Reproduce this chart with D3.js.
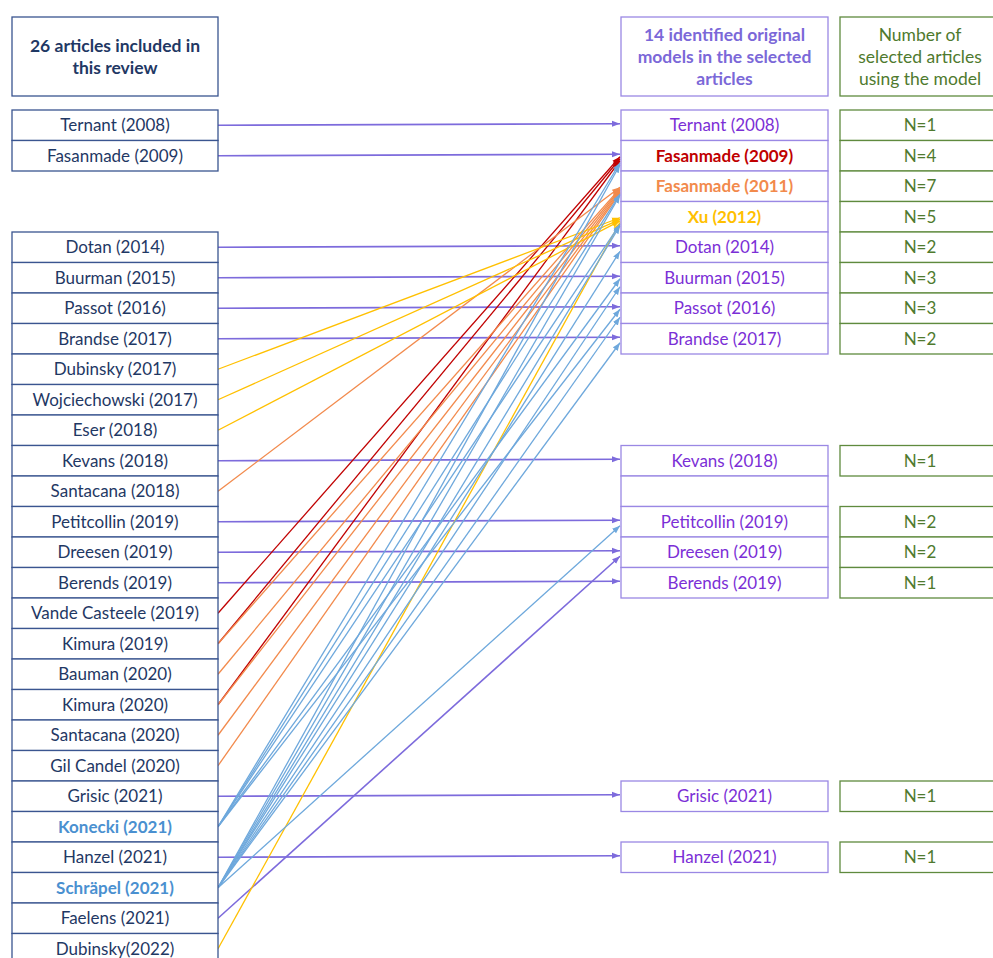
<!DOCTYPE html>
<html>
<head>
<meta charset="utf-8">
<script src="https://cdn.jsdelivr.net/npm/d3@7"></script>
<style>
  body { margin: 0; background: #fff; }
  text { font-family: Lato, "Noto Sans", sans-serif; }
</style>
</head>
<body>
<svg id="chart" width="993" height="958"></svg>
<script>
// left column: one slot per grid row, null = no box
const articles = [
  'Ternant (2008)', 'Fasanmade (2009)', null, null,
  'Dotan (2014)', 'Buurman (2015)', 'Passot (2016)', 'Brandse (2017)',
  'Dubinsky (2017)', 'Wojciechowski (2017)', 'Eser (2018)', 'Kevans (2018)',
  'Santacana (2018)', 'Petitcollin (2019)', 'Dreesen (2019)', 'Berends (2019)',
  'Vande Casteele (2019)', 'Kimura (2019)', 'Bauman (2020)', 'Kimura (2020)',
  'Santacana (2020)', 'Gil Candel (2020)', 'Grisic (2021)', 'Konecki (2021)',
  'Hanzel (2021)', 'Schräpel (2021)', 'Faelens (2021)', 'Dubinsky(2022)'
];
const highlighted = ['Konecki (2021)', 'Schräpel (2021)'];

// right column: original models ('' = empty box)
const models = [
  'Ternant (2008)', 'Fasanmade (2009)', 'Fasanmade (2011)', 'Xu (2012)',
  'Dotan (2014)', 'Buurman (2015)', 'Passot (2016)', 'Brandse (2017)',
  null, null, null, 'Kevans (2018)',
  '', 'Petitcollin (2019)', 'Dreesen (2019)', 'Berends (2019)',
  null, null, null, null,
  null, null, 'Grisic (2021)', null,
  'Hanzel (2021)', null, null, null
];
const counts = [1, 4, 7, 5, 2, 3, 3, 2, null, null, null, 1, null, 2, 2, 1,
  null, null, null, null, null, null, 1, null, 1, null, null, null];

// [article, model, group]
const links = [
  ['Ternant (2008)', 'Ternant (2008)', 'own'],
  ['Fasanmade (2009)', 'Fasanmade (2009)', 'own'],
  ['Dotan (2014)', 'Dotan (2014)', 'own'],
  ['Buurman (2015)', 'Buurman (2015)', 'own'],
  ['Passot (2016)', 'Passot (2016)', 'own'],
  ['Brandse (2017)', 'Brandse (2017)', 'own'],
  ['Kevans (2018)', 'Kevans (2018)', 'own'],
  ['Petitcollin (2019)', 'Petitcollin (2019)', 'own'],
  ['Dreesen (2019)', 'Dreesen (2019)', 'own'],
  ['Berends (2019)', 'Berends (2019)', 'own'],
  ['Grisic (2021)', 'Grisic (2021)', 'own'],
  ['Hanzel (2021)', 'Hanzel (2021)', 'own'],
  ['Faelens (2021)', 'Dreesen (2019)', 'own'],
  ['Vande Casteele (2019)', 'Fasanmade (2009)', 'f2009'],
  ['Kimura (2019)', 'Fasanmade (2009)', 'f2009'],
  ['Kimura (2020)', 'Fasanmade (2009)', 'f2009'],
  ['Santacana (2018)', 'Fasanmade (2011)', 'f2011'],
  ['Kimura (2019)', 'Fasanmade (2011)', 'f2011'],
  ['Bauman (2020)', 'Fasanmade (2011)', 'f2011'],
  ['Kimura (2020)', 'Fasanmade (2011)', 'f2011'],
  ['Santacana (2020)', 'Fasanmade (2011)', 'f2011'],
  ['Gil Candel (2020)', 'Fasanmade (2011)', 'f2011'],
  ['Dubinsky (2017)', 'Xu (2012)', 'xu'],
  ['Wojciechowski (2017)', 'Xu (2012)', 'xu'],
  ['Eser (2018)', 'Xu (2012)', 'xu'],
  ['Dubinsky(2022)', 'Xu (2012)', 'xu'],
  ['Konecki (2021)', 'Fasanmade (2009)', 'multi'],
  ['Konecki (2021)', 'Fasanmade (2011)', 'multi'],
  ['Konecki (2021)', 'Xu (2012)', 'multi'],
  ['Konecki (2021)', 'Buurman (2015)', 'multi'],
  ['Konecki (2021)', 'Passot (2016)', 'multi'],
  ['Schräpel (2021)', 'Fasanmade (2009)', 'multi'],
  ['Schräpel (2021)', 'Fasanmade (2011)', 'multi'],
  ['Schräpel (2021)', 'Xu (2012)', 'multi'],
  ['Schräpel (2021)', 'Dotan (2014)', 'multi'],
  ['Schräpel (2021)', 'Buurman (2015)', 'multi'],
  ['Schräpel (2021)', 'Passot (2016)', 'multi'],
  ['Schräpel (2021)', 'Brandse (2017)', 'multi'],
  ['Schräpel (2021)', 'Petitcollin (2019)', 'multi']
];

const groupColor = { own: '#7d6bdc', f2009: '#c00000', f2011: '#f28a4c', xu: '#ffc000', multi: '#6ea8dc' };
const modelColor = { 'Fasanmade (2009)': '#c00000', 'Fasanmade (2011)': '#f28a4c', 'Xu (2012)': '#ffc000' };

const svg = d3.select('#chart');
const fs = 17;

const y = d3.scaleBand().domain(d3.range(articles.length)).range([110, 110 + articles.length * 30.5]);
const col = {
  left: { x: 12, w: 206 },
  mid: { x: 621, w: 207 },
  num: { x: 840, w: 170 }
};

// header boxes
const headers = [
  { c: col.left, lines: ['26 articles included in', 'this review'], color: '#1f3864', stroke: '#3a5590', bold: true },
  { c: col.mid, lines: ['14 identified original', 'models in the selected', 'articles'], color: '#7b68d8', stroke: '#9a88e4', bold: true },
  { c: col.num, lines: ['Number of', 'selected articles', 'using the model'], color: '#4f7a2e', stroke: '#5f8a3e', bold: false }
];
headers.forEach((h) => {
  svg.append('rect')
    .attr('x', h.c.x).attr('y', 17).attr('width', h.c.w).attr('height', 79)
    .attr('fill', 'none').attr('stroke', h.stroke).attr('stroke-width', 1.3);
  let top = 56.5 - (h.lines.length - 1) * 11;
  h.lines.forEach((t, i) => {
    svg.append('text')
      .attr('x', h.c.x + (h.c === col.num ? 80 : h.c.w / 2))
      .attr('y', top + i * 22)
      .attr('dy', '0.35em')
      .attr('text-anchor', 'middle')
      .attr('font-size', 17.5)
      .attr('font-weight', h.bold ? 'bold' : 'normal')
      .attr('fill', h.color)
      .text(t);
  });
});

// arrow markers per group
const defs = svg.append('defs');
Object.keys(groupColor).forEach((k) => {
  defs.append('marker')
    .attr('id', 'arr-' + k)
    .attr('markerUnits', 'userSpaceOnUse')
    .attr('markerWidth', 9).attr('markerHeight', 7)
    .attr('refX', 8).attr('refY', 3.5)
    .attr('orient', 'auto')
    .append('path')
    .attr('d', 'M0,0.5 L8,3.5 L0,6.5 z')
    .attr('fill', groupColor[k]);
});

// links
const mid = (i) => y(i) + y.bandwidth() / 2;
const diagCount = {};
const linkData = links.map((l) => {
  let si = articles.indexOf(l[0]);
  let ti = models.indexOf(l[1]);
  let flat = si === ti;
  let k = 0;
  if (!flat) { diagCount[ti] = (diagCount[ti] || 0) + 1; k = diagCount[ti] - 1; }
  return { si, ti, flat, k, group: l[2] };
});

svg.append('g').selectAll('line')
  .data(linkData)
  .enter().append('line')
  .attr('x1', col.left.x + col.left.w)
  .attr('y1', (d) => mid(d.si))
  .attr('x2', col.mid.x - 1)
  .attr('y2', (d) => {
    if (d.flat) return mid(d.ti) - 1.5;
    let n = diagCount[d.ti];
    return mid(d.ti) + (n > 1 ? 1 + d.k * 8 / (n - 1) : 4);
  })
  .attr('stroke', (d) => groupColor[d.group])
  .attr('stroke-width', (d) => d.group === 'own' ? 1.6 : 1.3)
  .attr('marker-end', (d) => 'url(#arr-' + d.group + ')');

// left boxes
const left = svg.append('g').selectAll('g')
  .data(articles.map((a, i) => ({ a, i })).filter((d) => d.a !== null))
  .enter().append('g');
left.append('rect')
  .attr('x', col.left.x).attr('y', (d) => y(d.i))
  .attr('width', col.left.w).attr('height', y.bandwidth())
  .attr('fill', '#fff').attr('stroke', '#3a5590').attr('stroke-width', 1.3);
left.append('text')
  .attr('x', col.left.x + col.left.w / 2).attr('y', (d) => mid(d.i))
  .attr('dy', '0.36em').attr('text-anchor', 'middle').attr('font-size', fs)
  .attr('font-weight', (d) => highlighted.includes(d.a) ? 'bold' : 'normal')
  .attr('fill', (d) => highlighted.includes(d.a) ? '#4a90d0' : '#1f3864')
  .text((d) => d.a);

// model boxes
const right = svg.append('g').selectAll('g')
  .data(models.map((m, i) => ({ m, i })).filter((d) => d.m !== null))
  .enter().append('g');
right.append('rect')
  .attr('x', col.mid.x).attr('y', (d) => y(d.i))
  .attr('width', col.mid.w).attr('height', y.bandwidth())
  .attr('fill', '#fff').attr('stroke', '#9a88e4').attr('stroke-width', 1.3);
right.append('text')
  .attr('x', col.mid.x + col.mid.w / 2).attr('y', (d) => mid(d.i))
  .attr('dy', '0.36em').attr('text-anchor', 'middle').attr('font-size', fs)
  .attr('font-weight', (d) => modelColor[d.m] ? 'bold' : 'normal')
  .attr('fill', (d) => modelColor[d.m] || '#7b2fd6')
  .text((d) => d.m);

// count boxes
const num = svg.append('g').selectAll('g')
  .data(counts.map((n, i) => ({ n, i })).filter((d) => d.n !== null))
  .enter().append('g');
num.append('rect')
  .attr('x', col.num.x).attr('y', (d) => y(d.i))
  .attr('width', col.num.w).attr('height', y.bandwidth())
  .attr('fill', '#fff').attr('stroke', '#5f8a3e').attr('stroke-width', 1.3);
num.append('text')
  .attr('x', col.num.x + 80).attr('y', (d) => mid(d.i))
  .attr('dy', '0.36em').attr('text-anchor', 'middle').attr('font-size', fs)
  .attr('fill', '#4f7a2e')
  .text((d) => 'N=' + d.n);
</script>
</body>
</html>
